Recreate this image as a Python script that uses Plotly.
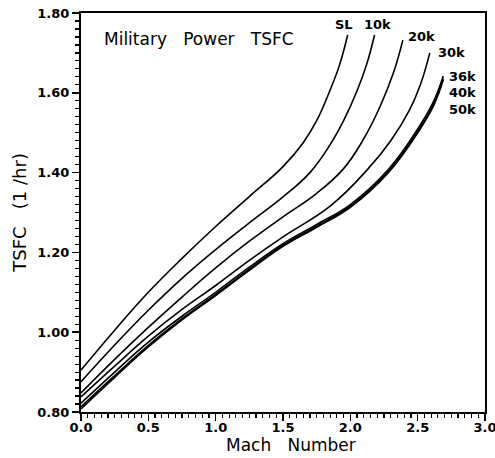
import plotly.graph_objects as go

# ---- data ----
series_names = ["SL", "10k", "20k", "30k", "36k", "40k", "50k"]

mach_sl = [0, 0.25, 0.5, 0.75, 1.0, 1.25, 1.5, 1.65, 1.75, 1.85, 1.92, 1.98]
tsfc_sl = [0.905, 1.005, 1.10, 1.185, 1.265, 1.34, 1.415, 1.475, 1.53, 1.607, 1.67, 1.745]

mach_10k = [0, 0.25, 0.5, 0.75, 1.0, 1.25, 1.5, 1.7, 1.85, 1.95, 2.05, 2.12, 2.18]
tsfc_10k = [0.876, 0.968, 1.055, 1.135, 1.207, 1.274, 1.339, 1.40, 1.47, 1.53, 1.605, 1.67, 1.745]

mach_20k = [0, 0.25, 0.5, 0.75, 1.0, 1.25, 1.5, 1.75, 1.95, 2.1, 2.22, 2.32, 2.39]
tsfc_20k = [0.848, 0.932, 1.012, 1.088, 1.161, 1.228, 1.289, 1.348, 1.41, 1.485, 1.565, 1.65, 1.732]

mach_30k = [0, 0.25, 0.5, 0.75, 1.0, 1.25, 1.5, 1.85, 2.12, 2.3, 2.44, 2.52, 2.59]
tsfc_30k = [0.838, 0.915, 0.99, 1.057, 1.117, 1.18, 1.239, 1.316, 1.405, 1.48, 1.557, 1.62, 1.70]

mach_hi = [0, 0.25, 0.5, 0.75, 1.0, 1.25, 1.5, 1.75, 2.0, 2.28, 2.52, 2.62, 2.69]
tsfc_36k = [0.822, 0.90, 0.975, 1.04, 1.10, 1.163, 1.222, 1.27, 1.32, 1.407, 1.52, 1.58, 1.642]
tsfc_40k = [0.813, 0.891, 0.967, 1.034, 1.095, 1.158, 1.218, 1.266, 1.316, 1.402, 1.514, 1.573, 1.636]
tsfc_50k = [0.808, 0.887, 0.963, 1.031, 1.092, 1.155, 1.215, 1.263, 1.313, 1.399, 1.51, 1.569, 1.632]

x_ticks = [0.0, 0.5, 1.0, 1.5, 2.0, 2.5, 3.0]
x_tick_labels = ["0.0", "0.5", "1.0", "1.5", "2.0", "2.5", "3.0"]
y_ticks = [0.8, 1.0, 1.2, 1.4, 1.6, 1.8]
y_tick_labels = ["0.80", "1.00", "1.20", "1.40", "1.60", "1.80"]

all_x = [mach_sl, mach_10k, mach_20k, mach_30k, mach_hi, mach_hi, mach_hi]
all_y = [tsfc_sl, tsfc_10k, tsfc_20k, tsfc_30k, tsfc_36k, tsfc_40k, tsfc_50k]

# label placement relative to each curve's end (pixels)
label_style = {
    "SL":  dict(xanchor="center", xshift=-4, yshift=10),
    "10k": dict(xanchor="center", xshift=3, yshift=10),
    "20k": dict(xanchor="left", xshift=3, yshift=4),
    "30k": dict(xanchor="left", xshift=6, yshift=0),
    "36k": dict(xanchor="left", xshift=4, yshift=0),
    "40k": dict(xanchor="left", xshift=4, yshift=-14),
    "50k": dict(xanchor="left", xshift=4, yshift=-29),
}

FONT = "DejaVu Sans, Verdana, Arial, sans-serif"

fig = go.Figure()
for name, xs, ys in zip(series_names, all_x, all_y):
    fig.add_trace(go.Scatter(
        x=xs, y=ys, mode="lines", name=name,
        line=dict(color="black", width=1.6, shape="spline", smoothing=1.2),
        showlegend=False, hoverinfo="skip",
    ))
    st = label_style[name]
    fig.add_annotation(
        x=xs[-1], y=ys[-1], text="<b>%s</b>" % name, showarrow=False,
        xanchor=st["xanchor"], yanchor="middle",
        xshift=st["xshift"], yshift=st["yshift"],
        font=dict(family=FONT, size=13, color="black"),
    )

fig.add_annotation(
    x=0.052, y=0.935, xref="x domain", yref="y domain",
    text="Military\u00a0\u00a0 Power\u00a0\u00a0 TSFC", showarrow=False,
    xanchor="left", yanchor="middle",
    font=dict(family=FONT, size=17, color="black"),
)

# axis titles
fig.add_annotation(
    x=0.52, y=-0.083, xref="x domain", yref="y domain",
    text="Mach\u00a0\u00a0 Number", showarrow=False,
    xanchor="center", yanchor="middle",
    font=dict(family=FONT, size=17, color="black"),
)
fig.add_annotation(
    x=-0.153, y=0.5, xref="x domain", yref="y domain",
    text="TSFC\u00a0\u00a0 (1\u00a0/hr)", showarrow=False, textangle=-90,
    xanchor="center", yanchor="middle",
    font=dict(family=FONT, size=18, color="black"),
)

axis_common = dict(
    showline=True, linecolor="black", linewidth=2, mirror=True,
    showgrid=False, zeroline=False, automargin=False,
    ticks="outside", ticklen=7, tickwidth=1.5, tickcolor="black",
    ticklabeloverflow="allow",
    tickfont=dict(family=FONT, size=13, color="black", weight="bold"),
)

fig.update_xaxes(
    range=[0, 3.0], tickvals=x_ticks, ticktext=x_tick_labels,
    ticklabelstandoff=-5,
    minor=dict(dtick=0.05, ticklen=4, tickwidth=1.2, tickcolor="black", ticks="outside"),
    **axis_common,
)
fig.update_yaxes(
    range=[0.8, 1.8], tickvals=y_ticks, ticktext=y_tick_labels,
    minor=dict(dtick=0.02, ticklen=4, tickwidth=1.2, tickcolor="black", ticks="outside"),
    **axis_common,
)

fig.update_layout(
    width=495, height=458,
    margin=dict(l=81, r=10, t=13, b=46),
    paper_bgcolor="white", plot_bgcolor="white",
)

fig.write_html(
    "out.html",
    config={"displayModeBar": False, "staticPlot": True},
    post_script="document.body.style.margin='0';document.body.style.overflow='hidden';",
)
